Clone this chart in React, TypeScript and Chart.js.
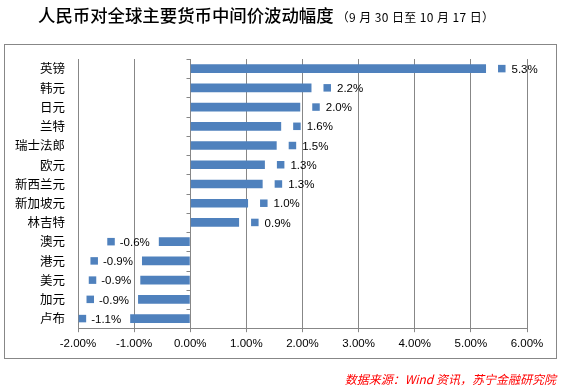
import React, { useEffect, useRef } from "react";
import { Chart, registerables } from "chart.js";

Chart.register(...registerables);

const categories = ["英镑", "韩元", "日元", "兰特", "瑞士法郎", "欧元", "新西兰元", "新加坡元", "林吉特", "澳元", "港元", "美元", "加元", "卢布"];
const changes = [5.27, 2.16, 1.96, 1.62, 1.54, 1.33, 1.29, 1.03, 0.87, -0.56, -0.86, -0.89, -0.93, -1.07];
const xMin = -2;
const xMax = 6;
const xStep = 1;
const titleMain = "人民币对全球主要货币中间价波动幅度";
const titleSub = "（9 月 30 日至 10 月 17 日）";
const sourceText = "数据来源：Wind 资讯，苏宁金融研究院";

const GRID = "#878787";
const BAR = "#4F81BD";
const NUM_FONT = "'Liberation Sans', Arial, sans-serif";
const CJK_FONT = "'Noto Sans CJK SC', 'Noto Sans', sans-serif";

const decorPlugin = {
  id: "decor",
  beforeDraw(chart: any) {
    const ctx = chart.ctx;
    ctx.save();
    ctx.strokeStyle = GRID;
    ctx.lineWidth = 1;
    ctx.strokeRect(4.5, 44.5, 552, 314);
    ctx.restore();
  },
  afterDraw(chart: any) {
    const ctx = chart.ctx;
    const xs = chart.scales.x;
    const area = chart.chartArea;
    const x0 = Math.round(xs.getPixelForValue(0)) + 0.5;
    const n = categories.length;
    const step = (area.bottom - area.top) / n;
    ctx.save();
    ctx.strokeStyle = GRID;
    ctx.lineWidth = 1;
    ctx.beginPath();
    for (let i = 0; i <= n; i++) {
      const y = Math.round(area.top + i * step) + 0.5;
      ctx.moveTo(x0 - 4, y);
      ctx.lineTo(x0, y);
    }
    ctx.stroke();

    // data labels with legend key
    const meta = chart.getDatasetMeta(0);
    ctx.font = `11.5px ${NUM_FONT}`;
    ctx.textBaseline = "middle";
    meta.data.forEach((el: any, i: number) => {
      const v = changes[i];
      const label = v.toFixed(1) + "%";
      const y = el.y;
      const sq = 7.5;
      if (v >= 0) {
        const sx = el.x + 12;
        ctx.fillStyle = BAR;
        ctx.fillRect(sx, y - sq / 2, sq, sq);
        ctx.fillStyle = "#000";
        ctx.textAlign = "left";
        ctx.fillText(label, sx + sq + 6, y + 1);
      } else {
        const tx = el.x - 9;
        ctx.fillStyle = "#000";
        ctx.textAlign = "right";
        ctx.fillText(label, tx, y + 1);
        const w = ctx.measureText(label).width;
        ctx.fillStyle = BAR;
        ctx.fillRect(tx - w - 5 - sq, y - sq / 2, sq, sq);
      }
    });
    ctx.restore();
  },
};

export default function App() {
  const ref = useRef<HTMLCanvasElement | null>(null);
  useEffect(() => {
    if (!ref.current) return;
    const chart = new Chart(ref.current, {
      type: "bar",
      data: {
        labels: categories,
        datasets: [
          {
            data: changes,
            backgroundColor: BAR,
            borderWidth: 0,
            categoryPercentage: 1,
            barPercentage: 0.45,
          },
        ],
      },
      options: {
        indexAxis: "y",
        responsive: false,
        animation: false,
        devicePixelRatio: 1,
        layout: { padding: { left: 2, right: 39, top: 59, bottom: 32 } },
        plugins: { legend: { display: false }, tooltip: { enabled: false }, title: { display: false } },
        scales: {
          x: {
            min: xMin,
            max: xMax,
            ticks: {
              stepSize: xStep,
              callback: (v: any) => Number(v).toFixed(2) + "%",
              font: { family: NUM_FONT, size: 11.5 },
              color: "#000",
              padding: 5,
              maxRotation: 0,
            },
            grid: { color: GRID, lineWidth: 1, tickLength: 4, drawTicks: true },
            border: { display: true, color: GRID },
          },
          y: {
            grid: { display: false, drawTicks: false },
            border: { display: false },
            ticks: {
              font: { family: CJK_FONT, size: 12.5 },
              color: "#000",
              padding: 13,
              autoSkip: false,
            },
          },
        },
      },
      plugins: [decorPlugin],
    } as any);
    return () => chart.destroy();
  }, []);

  return (
    <div style={{ position: "absolute", left: 0, top: 0, width: 566, height: 388, background: "#fff" }}>
      <canvas ref={ref} width={566} height={388} style={{ position: "absolute", left: 0, top: 0 }} />
      <div
        style={{
          position: "absolute",
          left: 38,
          top: 3,
          whiteSpace: "nowrap",
          fontFamily: CJK_FONT,
          color: "#000",
          lineHeight: "24px",
        }}
      >
        <span style={{ fontSize: 17.4, fontWeight: 500 }}>{titleMain}</span>
        <span style={{ fontSize: 12, marginLeft: 3, letterSpacing: 0.4 }}>{titleSub}</span>
      </div>
      <div
        style={{
          position: "absolute",
          right: 10,
          top: 370,
          whiteSpace: "nowrap",
          fontFamily: CJK_FONT,
          fontStyle: "italic",
          fontSize: 12,
          color: "#FF0000",
          lineHeight: "18px",
        }}
      >
        {sourceText}
      </div>
    </div>
  );
}
